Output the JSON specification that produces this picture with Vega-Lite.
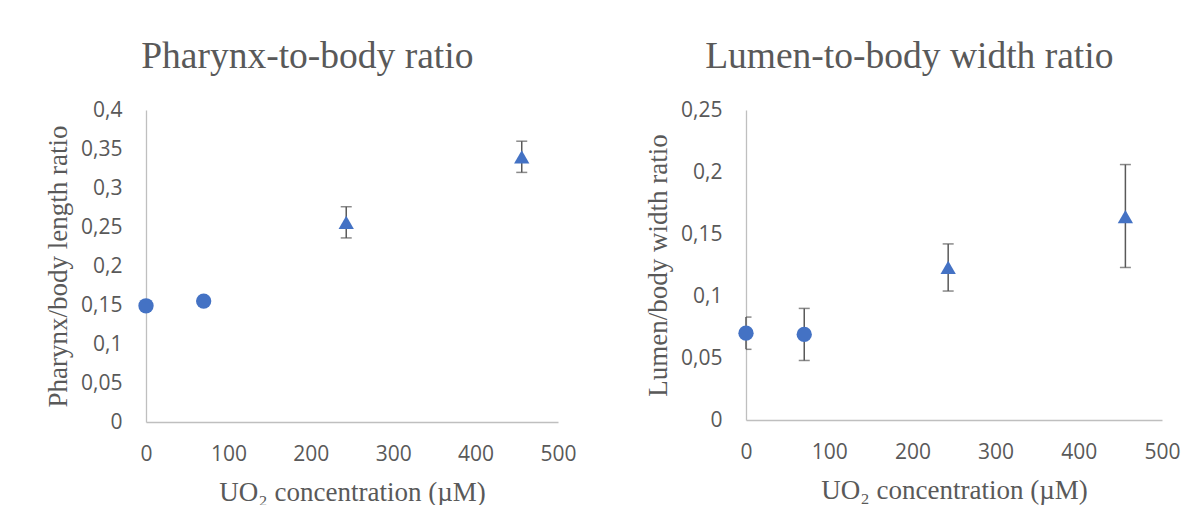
{
  "$schema": "https://vega.github.io/schema/vega-lite/v6.json",
  "background": "white",
  "padding": {"left": 44, "top": 37, "right": 0, "bottom": 0},
  "spacing": 188,
  "bounds": "flush",
  "config": {
    "view": {"stroke": null},
    "axis": {
      "domainColor": "#bfbfbf",
      "domainWidth": 1.3,
      "grid": false,
      "ticks": false,
      "tickSize": 0,
      "labelFont": "Open Sans",
      "labelFontSize": 21,
      "labelColor": "#595959",
      "labelFlush": false,
      "titleFont": "Liberation Serif",
      "titleFontSize": 27,
      "titleFontWeight": "normal",
      "titleColor": "#595959"
    },
    "axisX": {"labelPadding": 21, "titlePadding": 15},
    "axisY": {"labelPadding": 24, "titlePadding": 8},
    "title": {"font": "Liberation Serif", "fontSize": 37.5, "fontWeight": "normal", "color": "#595959", "offset": 24, "frame": "bounds"}
  },
  "datasets": {
    "pharynx": [
      {"conc": 0, "ratio": 0.149, "marker": "circle"},
      {"conc": 70, "ratio": 0.155, "marker": "circle"},
      {"conc": 243, "ratio": 0.256, "lo": 0.236, "hi": 0.276, "marker": "triangle"},
      {"conc": 456, "ratio": 0.340, "lo": 0.320, "hi": 0.360, "marker": "triangle"}
    ],
    "lumen": [
      {"conc": 0, "ratio": 0.070, "lo": 0.057, "hi": 0.083, "marker": "circle"},
      {"conc": 70, "ratio": 0.069, "lo": 0.048, "hi": 0.090, "marker": "circle"},
      {"conc": 243, "ratio": 0.123, "lo": 0.104, "hi": 0.142, "marker": "triangle"},
      {"conc": 456, "ratio": 0.164, "lo": 0.123, "hi": 0.206, "marker": "triangle"}
    ]
  },
  "hconcat": [
    {
      "title": {"text": "Pharynx-to-body ratio", "dx": -3},
      "width": 412,
      "height": 312,
      "data": {"name": "pharynx"},
      "encoding": {
        "x": {
          "field": "conc", "type": "quantitative",
          "scale": {"domain": [0, 500], "nice": false},
          "axis": {"values": [0, 100, 200, 300, 400, 500], "title": "UO₂ concentration (µM)"}
        }
      },
      "layer": [
        {
          "mark": {"type": "rule", "color": "#595959", "strokeWidth": 1.5},
          "encoding": {
            "y": {
              "field": "lo", "type": "quantitative", "scale": {"domain": [0, 0.4], "nice": false},
              "title": "Pharynx/body length ratio",
              "axis": {"values": [0, 0.05, 0.1, 0.15, 0.2, 0.25, 0.3, 0.35, 0.4], "format": "~g", "labelExpr": "replace(datum.label, '.', ',')"}
            },
            "y2": {"field": "hi"}
          }
        },
        {
          "mark": {"type": "tick", "orient": "horizontal", "size": 11, "thickness": 1.5, "color": "#595959", "clip": true},
          "encoding": {
            "y": {
              "field": "lo", "type": "quantitative", "title": "Pharynx/body length ratio",
              "axis": {"values": [0, 0.05, 0.1, 0.15, 0.2, 0.25, 0.3, 0.35, 0.4], "format": "~g", "labelExpr": "replace(datum.label, '.', ',')"}
            }
          }
        },
        {
          "mark": {"type": "tick", "orient": "horizontal", "size": 11, "thickness": 1.5, "color": "#595959", "clip": true},
          "encoding": {
            "y": {
              "field": "hi", "type": "quantitative", "title": "Pharynx/body length ratio",
              "axis": {"values": [0, 0.05, 0.1, 0.15, 0.2, 0.25, 0.3, 0.35, 0.4], "format": "~g", "labelExpr": "replace(datum.label, '.', ',')"}
            }
          }
        },
        {
          "mark": {"type": "point", "filled": true, "opacity": 1, "color": "#4472C4", "size": 234},
          "encoding": {
            "y": {
              "field": "ratio", "type": "quantitative",
              "title": "Pharynx/body length ratio",
              "axis": {"values": [0, 0.05, 0.1, 0.15, 0.2, 0.25, 0.3, 0.35, 0.4], "format": "~g", "labelExpr": "replace(datum.label, '.', ',')"}
            },
            "shape": {"field": "marker", "type": "nominal", "scale": {"domain": ["circle", "triangle"], "range": ["circle", "triangle-up"]}, "legend": null}
          }
        }
      ]
    },
    {
      "title": {"text": "Lumen-to-body width ratio", "dx": -3},
      "width": 416,
      "height": 310,
      "data": {"name": "lumen"},
      "encoding": {
        "x": {
          "field": "conc", "type": "quantitative",
          "scale": {"domain": [0, 500], "nice": false},
          "axis": {"values": [0, 100, 200, 300, 400, 500], "title": "UO₂ concentration (µM)"}
        }
      },
      "layer": [
        {
          "mark": {"type": "rule", "color": "#595959", "strokeWidth": 1.5},
          "encoding": {
            "y": {
              "field": "lo", "type": "quantitative", "scale": {"domain": [0, 0.25], "nice": false},
              "title": "Lumen/body width ratio",
              "axis": {"values": [0, 0.05, 0.1, 0.15, 0.2, 0.25], "format": "~g", "labelExpr": "replace(datum.label, '.', ',')"}
            },
            "y2": {"field": "hi"}
          }
        },
        {
          "mark": {"type": "tick", "orient": "horizontal", "size": 11, "thickness": 1.5, "color": "#595959", "clip": true},
          "encoding": {
            "y": {
              "field": "lo", "type": "quantitative", "title": "Lumen/body width ratio",
              "axis": {"values": [0, 0.05, 0.1, 0.15, 0.2, 0.25], "format": "~g", "labelExpr": "replace(datum.label, '.', ',')"}
            }
          }
        },
        {
          "mark": {"type": "tick", "orient": "horizontal", "size": 11, "thickness": 1.5, "color": "#595959", "clip": true},
          "encoding": {
            "y": {
              "field": "hi", "type": "quantitative", "title": "Lumen/body width ratio",
              "axis": {"values": [0, 0.05, 0.1, 0.15, 0.2, 0.25], "format": "~g", "labelExpr": "replace(datum.label, '.', ',')"}
            }
          }
        },
        {
          "mark": {"type": "point", "filled": true, "opacity": 1, "color": "#4472C4", "size": 234},
          "encoding": {
            "y": {
              "field": "ratio", "type": "quantitative",
              "title": "Lumen/body width ratio",
              "axis": {"values": [0, 0.05, 0.1, 0.15, 0.2, 0.25], "format": "~g", "labelExpr": "replace(datum.label, '.', ',')"}
            },
            "shape": {"field": "marker", "type": "nominal", "scale": {"domain": ["circle", "triangle"], "range": ["circle", "triangle-up"]}, "legend": null}
          }
        }
      ]
    }
  ]
}
